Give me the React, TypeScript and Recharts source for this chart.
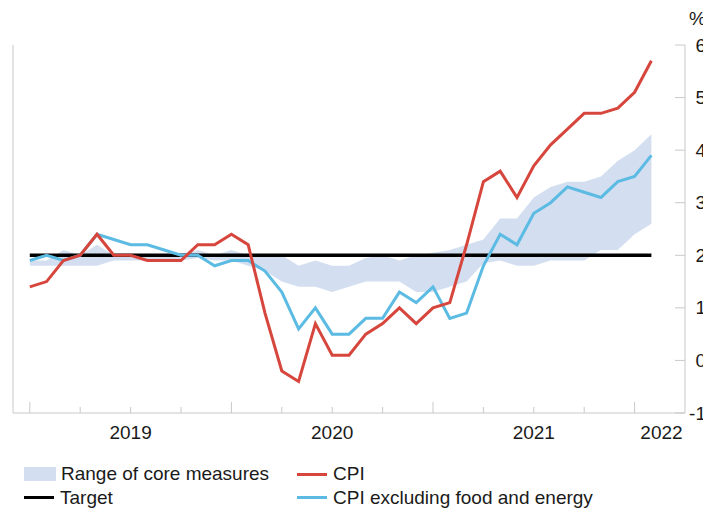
import React from "react";
import { ComposedChart, Area, Line, XAxis, YAxis } from "recharts";

// monthly, Jan 2019 .. Feb 2022
const MONTHS = [
  "2019-01", "2019-02", "2019-03", "2019-04", "2019-05", "2019-06",
  "2019-07", "2019-08", "2019-09", "2019-10", "2019-11", "2019-12",
  "2020-01", "2020-02", "2020-03", "2020-04", "2020-05", "2020-06",
  "2020-07", "2020-08", "2020-09", "2020-10", "2020-11", "2020-12",
  "2021-01", "2021-02", "2021-03", "2021-04", "2021-05", "2021-06",
  "2021-07", "2021-08", "2021-09", "2021-10", "2021-11", "2021-12",
  "2022-01", "2022-02",
];

const CPI = [
  1.4, 1.5, 1.9, 2.0, 2.4, 2.0, 2.0, 1.9, 1.9, 1.9, 2.2, 2.2,
  2.4, 2.2, 0.9, -0.2, -0.4, 0.7, 0.1, 0.1, 0.5, 0.7, 1.0, 0.7,
  1.0, 1.1, 2.2, 3.4, 3.6, 3.1, 3.7, 4.1, 4.4, 4.7, 4.7, 4.8,
  5.1, 5.7,
];

const CPI_EX_FOOD_ENERGY = [
  1.9, 2.0, 1.9, 2.0, 2.4, 2.3, 2.2, 2.2, 2.1, 2.0, 2.0, 1.8,
  1.9, 1.9, 1.7, 1.3, 0.6, 1.0, 0.5, 0.5, 0.8, 0.8, 1.3, 1.1,
  1.4, 0.8, 0.9, 1.8, 2.4, 2.2, 2.8, 3.0, 3.3, 3.2, 3.1, 3.4,
  3.5, 3.9,
];

const CORE_LOW = [
  1.8, 1.8, 1.8, 1.8, 1.8, 1.9, 1.9, 1.9, 1.9, 1.9, 1.95, 1.9,
  1.9, 1.8, 1.7, 1.5, 1.4, 1.4, 1.3, 1.4, 1.5, 1.5, 1.5, 1.3,
  1.3, 1.4, 1.5, 1.85, 1.9, 1.8, 1.8, 1.9, 1.9, 1.9, 2.1, 2.1,
  2.4, 2.6,
];

const CORE_HIGH = [
  1.9, 1.9, 2.1, 2.0, 2.2, 2.0, 2.0, 2.0, 2.0, 2.0, 2.1, 2.0,
  2.1, 2.0, 2.0, 2.0, 1.8, 1.9, 1.8, 1.8, 1.95, 2.0, 1.9, 2.0,
  2.05, 2.1, 2.2, 2.3, 2.7, 2.7, 3.1, 3.3, 3.4, 3.4, 3.5, 3.8,
  4.0, 4.3,
];

const TARGET = 2;

const QUARTER_TICKS = [0, 3, 6, 9, 12, 15, 18, 21, 24, 27, 30, 33, 36];
const YEAR_LABELS = [
  { at: 6, label: "2019" },
  { at: 18, label: "2020" },
  { at: 30, label: "2021" },
  { at: 37.6, label: "2022" },
];
const Y_TICKS = [-1, 0, 1, 2, 3, 4, 5, 6];

const data = MONTHS.map((month, i) => ({
  i,
  month,
  cpi: CPI[i],
  cpix: CPI_EX_FOOD_ENERGY[i],
  core: [CORE_LOW[i], CORE_HIGH[i]],
  target: TARGET,
}));

const AXIS_GREY = "#c9c9c9";
const TEXT = "#1a1a1a";
const BAND = "#d3dff0";
const RED = "#d6463d";
const BLUE = "#5cbbe3";
const FONT = '"Liberation Sans", Arial, Helvetica, sans-serif';
const FS = 19;

const xTicks = Array.from(
  new Set([...QUARTER_TICKS, ...YEAR_LABELS.map((l) => l.at)])
).sort((a, b) => a - b);

function XTick(props: any) {
  const { x, y, payload } = props;
  const v = payload.value;
  const label = YEAR_LABELS.find((l) => l.at === v);
  const isQuarter = QUARTER_TICKS.includes(v);
  const len = v % 12 === 0 ? 11 : 6;
  return (
    <g>
      {isQuarter && (
        <line x1={x} x2={x} y1={y} y2={y - len} stroke={AXIS_GREY} strokeWidth={1} />
      )}
      {label && (
        <text x={x} y={y + 26} textAnchor="middle" fontSize={FS} fill={TEXT} fontFamily={FONT}>
          {label.label}
        </text>
      )}
    </g>
  );
}

function RightTick(props: any) {
  const { x, y, payload } = props;
  return (
    <g>
      <line x1={x} x2={x - 10} y1={y} y2={y} stroke={AXIS_GREY} strokeWidth={1} />
      <text x={x + 21} y={y + 6.5} textAnchor="end" fontSize={FS} fill={TEXT} fontFamily={FONT}>
        {payload.value}
      </text>
      {payload.value === 6 && (
        <text x={x + 21} y={y - 20.5} textAnchor="end" fontSize={FS} fill={TEXT} fontFamily={FONT}>
          %
        </text>
      )}
    </g>
  );
}

function LeftTick(props: any) {
  const { x, y } = props;
  return <line x1={x} x2={x + 11} y1={y} y2={y} stroke={AXIS_GREY} strokeWidth={1} />;
}

function LegendItem({ left, top, kind, color, text }: any) {
  return (
    <div
      style={{
        position: "absolute",
        left,
        top,
        height: 20,
        display: "flex",
        alignItems: "center",
        whiteSpace: "nowrap",
      }}
    >
      {kind === "box" ? (
        <div style={{ width: 32, height: 14, background: color, marginRight: 5 }} />
      ) : (
        <div style={{ width: 30, height: 3, background: color, marginRight: 6 }} />
      )}
      <span style={{ fontSize: FS, color: TEXT, lineHeight: "20px" }}>{text}</span>
    </div>
  );
}

export default function App() {
  return (
    <div
      style={{
        position: "absolute",
        left: 0,
        top: 0,
        width: 703,
        height: 508,
        background: "#fff",
        fontFamily: FONT,
      }}
    >
      <ComposedChart
        width={703}
        height={508}
        data={data}
        margin={{ top: 45, right: 17, bottom: 55, left: 12 }}
      >
        <XAxis
          dataKey="i"
          type="number"
          domain={[-1, 39]}
          ticks={xTicks}
          interval={0}
          height={40}
          tickSize={0}
          tickMargin={0}
          tickLine={false}
          axisLine={{ stroke: AXIS_GREY }}
          tick={<XTick />}
        />
        <YAxis
          yAxisId="left"
          orientation="left"
          type="number"
          domain={[-1, 6]}
          ticks={Y_TICKS}
          interval={0}
          width={1}
          tickSize={0}
          tickMargin={0}
          tickLine={false}
          axisLine={{ stroke: AXIS_GREY }}
          tick={<LeftTick />}
        />
        <YAxis
          yAxisId="right"
          orientation="right"
          type="number"
          domain={[-1, 6]}
          ticks={Y_TICKS}
          interval={0}
          width={1}
          tickSize={0}
          tickMargin={0}
          tickLine={false}
          axisLine={{ stroke: AXIS_GREY }}
          tick={<RightTick />}
        />
        <Area
          yAxisId="right"
          dataKey="core"
          type="linear"
          fill={BAND}
          fillOpacity={1}
          stroke="none"
          isAnimationActive={false}
          activeDot={false}
        />
        <Line
          yAxisId="right"
          dataKey="target"
          type="linear"
          stroke="#000"
          strokeWidth={3.5}
          dot={false}
          activeDot={false}
          isAnimationActive={false}
        />
        <Line
          yAxisId="right"
          dataKey="cpix"
          type="linear"
          stroke={BLUE}
          strokeWidth={3}
          dot={false}
          activeDot={false}
          isAnimationActive={false}
        />
        <Line
          yAxisId="right"
          dataKey="cpi"
          type="linear"
          stroke={RED}
          strokeWidth={3}
          dot={false}
          activeDot={false}
          isAnimationActive={false}
        />
      </ComposedChart>

      <LegendItem left={24} top={464} kind="box" color={BAND} text="Range of core measures" />
      <LegendItem left={24} top={487.5} kind="line" color="#000" text="Target" />
      <LegendItem left={297} top={464} kind="line" color={RED} text="CPI" />
      <LegendItem left={297} top={487.5} kind="line" color={BLUE} text="CPI excluding food and energy" />
    </div>
  );
}
